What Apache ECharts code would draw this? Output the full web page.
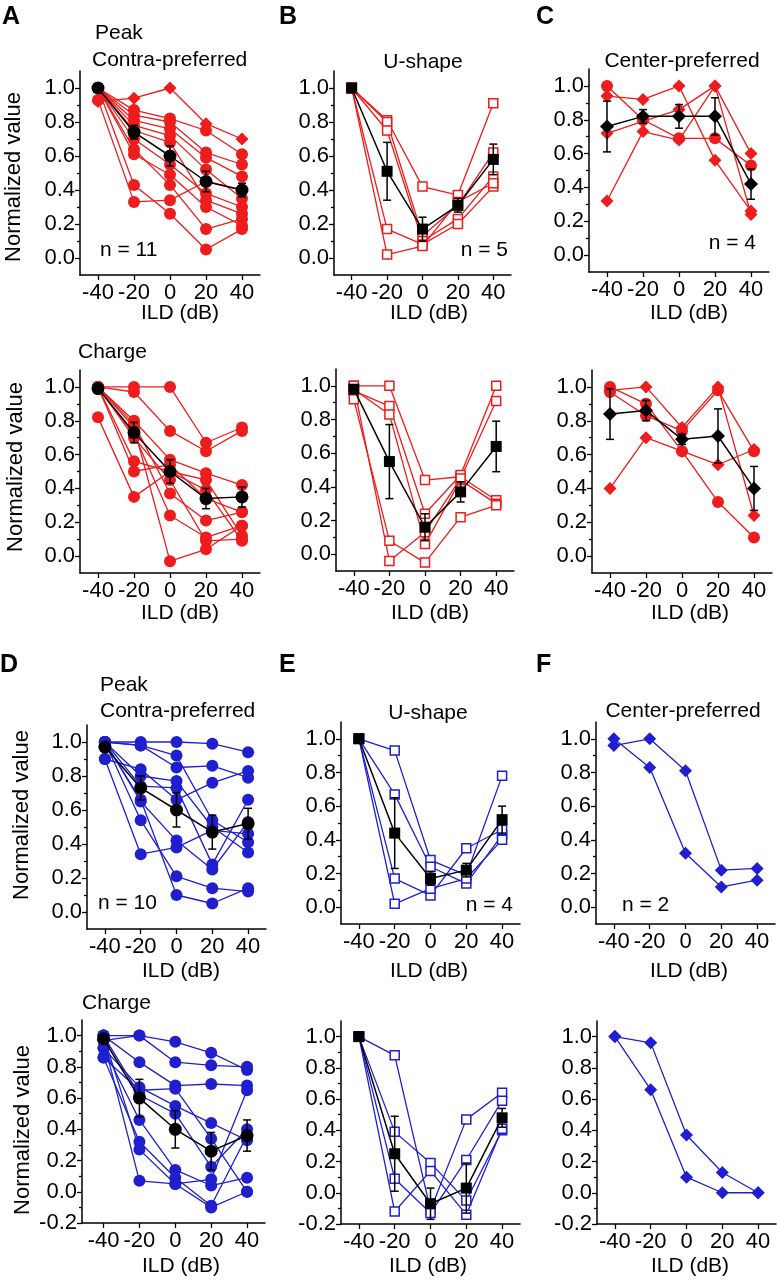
<!DOCTYPE html>
<html><head><meta charset="utf-8">
<script src="https://cdn.jsdelivr.net/npm/echarts@6/dist/echarts.min.js"></script>
<style>html,body{margin:0;padding:0;background:#fff}#c{width:777px;height:1280px}</style>
</head><body><div id="c"></div>
<script>
// ---------- data ----------
const ILD = [-40, -20, 0, 20, 40];
const xTickValues = [-40, -20, 0, 20, 40];
const yTickValues = [0, 0.2, 0.4, 0.6, 0.8, 1.0];
const yTickValuesNeg = [-0.2, 0, 0.2, 0.4, 0.6, 0.8, 1.0];
const yMinorValues = [0.1, 0.3, 0.5, 0.7, 0.9];
const yMinorValuesNeg = [-0.1, 0.1, 0.3, 0.5, 0.7, 0.9];

// Panel A – Peak, contra-preferred (red)
const A_peak = [
  [0.92, 0.94, 1.00, 0.79, 0.70],
  [1.00, 0.87, 0.82, 0.75, 0.61],
  [1.00, 0.84, 0.80, 0.62, 0.55],
  [1.00, 0.81, 0.76, 0.59, 0.48],
  [1.00, 0.78, 0.72, 0.52, 0.35],
  [1.00, 0.75, 0.68, 0.34, 0.26],
  [1.00, 0.70, 0.55, 0.38, 0.30],
  [1.00, 0.64, 0.43, 0.17, 0.23],
  [1.00, 0.61, 0.49, 0.30, 0.19],
  [1.00, 0.43, 0.26, 0.05, 0.17],
  [0.93, 0.33, 0.34, 0.45, 0.40]
];
const A_peak_mean = [1.00, 0.74, 0.60, 0.45, 0.40];
const A_peak_sem = [0.00, 0.04, 0.06, 0.06, 0.04];

// Panel B – Peak, U-shape (red)
const B_peak = [
  [1.00, 0.81, 0.42, 0.37, 0.91],
  [1.00, 0.80, 0.13, 0.31, 0.62],
  [1.00, 0.75, 0.10, 0.23, 0.48],
  [1.00, 0.17, 0.08, 0.20, 0.42],
  [1.00, 0.02, 0.07, 0.33, 0.44]
];
const B_peak_mean = [1.00, 0.51, 0.17, 0.31, 0.58];
const B_peak_sem = [0.00, 0.17, 0.07, 0.04, 0.09];

// Panel C – Peak, center-preferred (red)
const C_peak = [
  [0.94, 0.92, 1.00, 0.56, 0.26],
  [1.00, 0.80, 0.69, 0.69, 0.53],
  [0.72, 0.79, 0.86, 1.00, 0.60],
  [0.32, 0.73, 0.68, 1.00, 0.24]
];
const C_peak_mean = [0.76, 0.82, 0.82, 0.82, 0.42];
const C_peak_sem = [0.15, 0.04, 0.07, 0.11, 0.09];

// Panel A – Charge
const A_charge = [
  [1.00, 1.00, 1.00, 0.67, 0.76],
  [1.00, 0.97, 0.74, 0.62, 0.74],
  [1.00, 0.80, 0.57, 0.49, 0.42],
  [1.00, 0.78, 0.37, 0.21, 0.26],
  [1.00, 0.72, 0.24, 0.11, 0.18],
  [1.00, 0.56, 0.50, 0.45, 0.12],
  [1.00, 0.50, 0.54, 0.34, 0.26],
  [0.82, 0.35, 0.50, 0.39, 0.09],
  [1.00, 0.76, -0.03, 0.04, 0.18],
  [1.00, 0.70, 0.45, 0.09, 0.10]
];
const A_charge_mean = [0.99, 0.73, 0.50, 0.34, 0.35];
const A_charge_sem = [0.01, 0.06, 0.07, 0.06, 0.06];

// Panel B – Charge
const B_charge = [
  [1.00, 1.00, 0.44, 0.46, 0.32],
  [0.97, 0.88, 0.24, 0.47, 1.00],
  [0.98, 0.83, 0.06, 0.44, 0.30],
  [0.92, 0.08, -0.05, 0.22, 0.29],
  [1.00, -0.04, 0.13, 0.45, 0.91]
];
const B_charge_mean = [0.98, 0.55, 0.16, 0.37, 0.64];
const B_charge_sem = [0.02, 0.22, 0.08, 0.06, 0.15];

// Panel C – Charge
const C_charge = [
  [1.00, 0.90, 0.62, 0.32, 0.11],
  [0.98, 1.00, 0.76, 1.00, 0.24],
  [0.97, 0.83, 0.74, 0.98, 0.62],
  [0.40, 0.70, 0.62, 0.54, 0.63]
];
const C_charge_mean = [0.84, 0.86, 0.69, 0.71, 0.40];
const C_charge_sem = [0.15, 0.06, 0.03, 0.16, 0.13];

// Panel D – Peak, contra-preferred (blue)
const D_peak = [
  [1.00, 1.00, 1.00, 0.99, 0.94],
  [1.00, 0.98, 0.85, 0.86, 0.79],
  [0.90, 0.84, 0.66, 0.76, 0.83],
  [1.00, 0.98, 0.92, 0.54, 0.41],
  [1.00, 0.80, 0.77, 0.50, 0.35],
  [1.00, 0.74, 0.73, 0.28, 0.66],
  [1.00, 0.65, 0.42, 0.25, 0.53],
  [1.00, 0.54, 0.21, 0.14, 0.12],
  [1.00, 0.66, 0.10, 0.05, 0.14],
  [0.90, 0.34, 0.38, 0.48, 0.46]
];
const D_peak_mean = [0.97, 0.73, 0.60, 0.47, 0.52];
const D_peak_sem = [0.02, 0.07, 0.10, 0.10, 0.09];

// Panel E – Peak, U-shape (blue)
const E_peak = [
  [1.00, 0.93, 0.28, 0.19, 0.78],
  [1.00, 0.67, 0.24, 0.14, 0.43],
  [1.00, 0.17, 0.07, 0.35, 0.46],
  [1.00, 0.02, 0.11, 0.17, 0.40]
];
const E_peak_mean = [1.00, 0.44, 0.17, 0.22, 0.52];
const E_peak_sem = [0.00, 0.21, 0.04, 0.04, 0.08];

// Panel F – Peak, center-preferred (blue)
const F_peak = [
  [0.96, 1.00, 0.81, 0.22, 0.23],
  [1.00, 0.83, 0.32, 0.12, 0.16]
];

// Panel D – Charge
const D_charge = [
  [1.00, 1.00, 0.96, 0.89, 0.78],
  [0.97, 1.00, 0.83, 0.81, 0.80],
  [1.00, 0.83, 0.68, 0.69, 0.68],
  [0.92, 0.67, 0.55, 0.44, 0.33],
  [0.86, 0.65, 0.66, 0.34, 0.00],
  [1.00, 0.62, 0.50, 0.16, 0.40],
  [0.92, 0.46, 0.14, 0.04, 0.09],
  [0.86, 0.32, 0.09, -0.09, 0.36],
  [1.00, 0.27, 0.05, -0.10, 0.00],
  [0.97, 0.07, 0.05, 0.08, 0.65]
];
const D_charge_mean = [0.98, 0.60, 0.40, 0.26, 0.36];
const D_charge_sem = [0.02, 0.12, 0.12, 0.12, 0.10];

// Panel E – Charge
const E_charge = [
  [1.00, 0.88, -0.11, 0.47, 0.64],
  [1.00, 0.39, 0.19, -0.05, 0.40],
  [1.00, 0.09, -0.13, 0.21, 0.59],
  [1.00, -0.12, 0.14, -0.14, 0.41]
];
const E_charge_mean = [1.00, 0.25, -0.07, 0.03, 0.48];
const E_charge_sem = [0.00, 0.24, 0.10, 0.16, 0.06];

// Panel F – Charge
const F_charge = [
  [1.00, 0.96, 0.37, 0.13, 0.00],
  [1.00, 0.66, 0.10, 0.00, 0.00]
];

// ---------- styles / layout ----------
const RED = '#ee1c1c', BLUE = '#1f1fd0', FONT = '"Liberation Sans", Arial, sans-serif';
const A_shapes = ['diamond', 'circle', 'circle', 'circle', 'circle', 'circle', 'circle', 'circle', 'circle', 'circle', 'circle'];
const panels = [
  {cells: A_peak, mean: A_peak_mean, sem: A_peak_sem, color: RED, shapes: A_shapes, mShape: 'circle', g: [80, 71, 180, 204], ymin: -0.1, xmin: -50},
  {cells: B_peak, mean: B_peak_mean, sem: B_peak_sem, color: RED, shape: 'open', mShape: 'rect', g: [334, 71, 177, 204], ymin: -0.1, xmin: -50},
  {cells: C_peak, mean: C_peak_mean, sem: C_peak_sem, color: RED, shapes: ['diamond', 'circle', 'diamond', 'diamond'], mShape: 'diamond', g: [589, 69, 180, 203], ymin: -0.1, xmin: -50},
  {cells: A_charge, mean: A_charge_mean, sem: A_charge_sem, color: RED, shape: 'circle', mShape: 'circle', g: [80, 370, 180, 203], ymin: -0.1, xmin: -50},
  {cells: B_charge, mean: B_charge_mean, sem: B_charge_sem, color: RED, shape: 'open', mShape: 'rect', g: [336, 369, 178, 202], ymin: -0.1, xmin: -50},
  {cells: C_charge, mean: C_charge_mean, sem: C_charge_sem, color: RED, shapes: ['circle', 'diamond', 'circle', 'diamond'], mShape: 'diamond', g: [592, 370, 180, 203], ymin: -0.1, xmin: -50},
  {cells: D_peak, mean: D_peak_mean, sem: D_peak_sem, color: BLUE, shape: 'circle', mShape: 'circle', g: [87, 725, 179, 204], ymin: -0.1, xmin: -50},
  {cells: E_peak, mean: E_peak_mean, sem: E_peak_sem, color: BLUE, shape: 'open', mShape: 'rect', g: [341, 722, 179, 202], ymin: -0.1, xmin: -50},
  {cells: F_peak, color: BLUE, shape: 'diamond', g: [596, 722, 179, 202], ymin: -0.1, xmin: -50},
  {cells: D_charge, mean: D_charge_mean, sem: D_charge_sem, color: BLUE, shape: 'circle', mShape: 'circle', g: [82, 1020, 183, 203], ymin: -0.2, xmin: -52},
  {cells: E_charge, mean: E_charge_mean, sem: E_charge_sem, color: BLUE, shape: 'open', mShape: 'rect', g: [341, 1021, 179, 203], ymin: -0.2, xmin: -50},
  {cells: F_charge, color: BLUE, shape: 'diamond', g: [597, 1021, 179, 203], ymin: -0.2, xmin: -50}
];

const grids = [], xAxes = [], yAxes = [], series = [];
const axisLine = {show: true, onZero: false, lineStyle: {color: '#000', width: 1.5}};
const tickStyle = {color: '#000', width: 1.3};
const LABEL_SIZE = 22;

panels.forEach((p, i) => {
  grids.push({left: p.g[0], top: p.g[1], width: p.g[2], height: p.g[3]});
  xAxes.push({
    gridIndex: i, type: 'value', min: p.xmin, max: 50,
    axisLine: axisLine, splitLine: {show: false},
    axisTick: {show: true, customValues: xTickValues, length: 5, lineStyle: tickStyle},
    axisLabel: {customValues: xTickValues, fontSize: LABEL_SIZE, color: '#000', fontFamily: FONT, margin: 7}
  });
  const neg = p.ymin < -0.15;
  yAxes.push({
    gridIndex: i, type: 'value', position: 'left', min: p.ymin, max: 1.1,
    axisLine: axisLine, splitLine: {show: false},
    axisTick: {show: true, customValues: neg ? yTickValuesNeg : yTickValues, length: 5, lineStyle: tickStyle},
    axisLabel: {customValues: neg ? yTickValuesNeg : yTickValues, fontSize: LABEL_SIZE, color: '#000', fontFamily: FONT, margin: 5,
      formatter: v => (Math.abs(v) < 1e-9 ? 0 : v).toFixed(1)}
  });
  yAxes.push({
    gridIndex: i, type: 'value', position: 'left', offset: 0, min: p.ymin, max: 1.1,
    axisLine: {show: false, onZero: false}, splitLine: {show: false},
    axisTick: {show: true, customValues: neg ? yMinorValuesNeg : yMinorValues, length: 3, lineStyle: tickStyle},
    axisLabel: {show: false}
  });

  p.cells.forEach((vals, k) => {
    const shape = p.shapes ? p.shapes[k] : p.shape;
    const sym = shape === 'open' ? 'rect' : shape;
    const size = shape === 'circle' ? 12 : shape === 'diamond' ? 13 : 9;
    series.push({
      type: 'line', xAxisIndex: i, yAxisIndex: 2 * i, silent: true, animation: false,
      data: ILD.map((x, j) => [x, vals[j]]),
      symbol: sym, symbolSize: size, showAllSymbol: true,
      lineStyle: {color: p.color, width: 1.3},
      itemStyle: shape === 'open' ? {color: '#fff', borderColor: p.color, borderWidth: 1.5} : {color: p.color, borderWidth: 0},
      z: 2
    });
  });

  if (p.mean) {
    series.push({
      type: 'custom', xAxisIndex: i, yAxisIndex: 2 * i, silent: true, animation: false, z: 4,
      data: ILD.map((x, j) => [x, p.mean[j] - p.sem[j], p.mean[j] + p.sem[j]]),
      encode: {x: 0, y: [1, 2]},
      renderItem: (params, api) => {
        const x = api.value(0);
        const lo = api.coord([x, api.value(1)]), hi = api.coord([x, api.value(2)]);
        if (Math.abs(lo[1] - hi[1]) < 1) return null;
        const w = 4, st = {stroke: '#000', lineWidth: 1.5};
        return {type: 'group', children: [
          {type: 'line', shape: {x1: lo[0], y1: lo[1], x2: hi[0], y2: hi[1]}, style: st},
          {type: 'line', shape: {x1: lo[0] - w, y1: lo[1], x2: lo[0] + w, y2: lo[1]}, style: st},
          {type: 'line', shape: {x1: hi[0] - w, y1: hi[1], x2: hi[0] + w, y2: hi[1]}, style: st}
        ]};
      }
    });
    series.push({
      type: 'line', xAxisIndex: i, yAxisIndex: 2 * i, silent: true, animation: false, z: 5,
      data: ILD.map((x, j) => [x, p.mean[j]]),
      symbol: p.mShape, symbolSize: p.mShape === 'circle' ? 13 : p.mShape === 'diamond' ? 14 : 11,
      lineStyle: {color: '#000', width: 1.5}, itemStyle: {color: '#000'}
    });
  }
});

// ---------- text ----------
const texts = [];
function txt(x, y, s, o = {}) {
  texts.push({type: 'text', x: x, y: y, rotation: o.rot || 0, z: 10, silent: true,
    style: {text: s, fill: '#000', font: (o.bold ? 'bold ' : '') + (o.size || 21) + 'px ' + FONT,
      align: o.align || 'left', verticalAlign: 'middle'}});
}
// panel letters
[['A', 2, 17], ['B', 279, 17], ['C', 536, 17], ['D', 0, 665], ['E', 279, 665], ['F', 536, 665]]
  .forEach(([s, x, y]) => txt(x, y, s, {bold: true, size: 25}));
// titles
txt(95, 33, 'Peak'); txt(92, 60, 'Contra-preferred');
txt(423, 62, 'U-shape', {align: 'center'}); txt(682, 61, 'Center-preferred', {align: 'center'});
txt(78, 352, 'Charge');
txt(100, 685, 'Peak'); txt(100, 711, 'Contra-preferred');
txt(428, 713, 'U-shape', {align: 'center'}); txt(683, 711, 'Center-preferred', {align: 'center'});
txt(82, 1003, 'Charge');
// n labels
txt(100, 250, 'n = 11'); txt(508, 250, 'n = 5', {align: 'right'}); txt(756, 243, 'n = 4', {align: 'right'});
txt(98, 903, 'n = 10'); txt(513, 905, 'n = 4', {align: 'right'}); txt(622, 905, 'n = 2');
// axis names
[[14, 177], [16, 467], [22, 815], [23, 1130]].forEach(([x, y]) => txt(x, y, 'Normalized value', {rot: Math.PI / 2, align: 'center', size: 22}));
[[180, 313], [429, 313], [689, 313], [180, 613], [430, 613], [690, 613], [181, 971], [429, 971], [689, 971], [181, 1266], [428, 1266], [690, 1266]]
  .forEach(([x, y]) => txt(x, y, 'ILD (dB)', {align: 'center'}));

const chart = echarts.init(document.getElementById('c'), null, {renderer: 'canvas'});
chart.setOption({
  animation: false, backgroundColor: '#fff',
  grid: grids, xAxis: xAxes, yAxis: yAxes, series: series, graphic: texts
});
</script></body></html>
